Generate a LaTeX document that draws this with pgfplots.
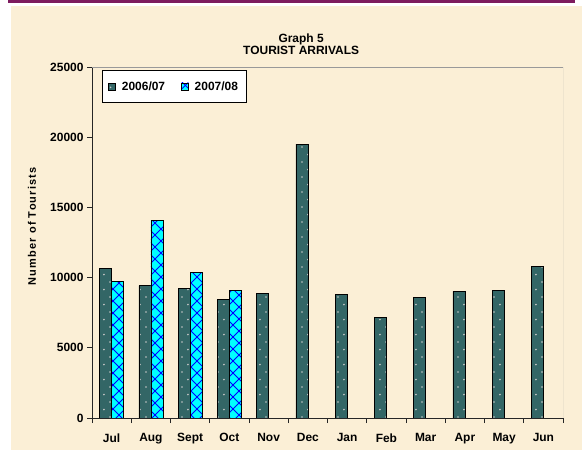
\documentclass[border=0pt]{standalone}
\usepackage{fontspec}
\setmainfont{Liberation Sans}
\newfontfamily\spacedfont[LetterSpace=11]{Liberation Sans}
\usepackage{pgfplots}
\pgfplotsset{compat=1.18}
\usetikzlibrary{patterns,patterns.meta}
\definecolor{bgBeige}{HTML}{FBEFD6}
\definecolor{bandPurple}{HTML}{7D1B5E}
\definecolor{barTeal}{HTML}{336666}
\definecolor{barCyan}{HTML}{00FFFF}
\definecolor{hatchBlue}{HTML}{0000FF}

\tikzdeclarepattern{
  name=sparsedots, type=uncolored,
  bottom left={(0pt,0pt)}, top right={(12pt,15pt)}, tile size={(12pt,15pt)},
  code={\fill (3pt,4pt) circle (0.9pt); \fill (9pt,11.5pt) circle (0.9pt);}
}
\tikzdeclarepattern{
  name=widehatch, type=uncolored,
  bottom left={(0pt,0pt)}, top right={(12pt,12pt)}, tile size={(12pt,12pt)},
  code={\draw[line width=0.9pt] (0pt,0pt) -- (12pt,12pt); \draw[line width=0.9pt] (0pt,12pt) -- (12pt,0pt);}
}

\begin{document}
\begin{tikzpicture}
  \useasboundingbox (0,0) rectangle (582bp,450bp);
  \fill[white] (0,0) rectangle (582bp,450bp);
  \fill[bgBeige] (11bp,0) rectangle (582bp,444bp);
  \fill[bandPurple] (8bp,447bp) rectangle (575bp,450bp);
  \begin{axis}[
    at={(92bp,32bp)}, anchor=south west,
    width=471bp, height=351bp, scale only axis,
    ybar, bar width=12bp,
    xmin=-0.5, xmax=11.5, ymin=0, ymax=25000,
    axis lines*=left, axis line style={-, draw=black!85, line width=0.8pt},
    ytick={0,5000,...,25000}, scaled y ticks=false,
    xtick={0,...,11},
    xticklabels={Jul,Aug,Sept,Oct,Nov,Dec,Jan,Feb,Mar,Apr,May,Jun},
    minor xtick={-0.5,0.5,...,11.5},
    major x tick style={draw=none},
    tick align=outside, major tick length=5bp, minor tick length=5bp,
    tick style={draw=black!85, line width=0.8pt},
    /pgf/number format/assume math mode=true,
    /pgf/number format/1000 sep={},
    ticklabel style={font=\fontsize{12}{14}\selectfont\bfseries},
    xticklabel style={yshift=-7bp},
    ylabel={\spacedfont Number of Tourists},
    ylabel style={at={(axis description cs:-0.1274,0.546)}, anchor=center,
      font=\fontsize{11}{13}\selectfont\bfseries},
    title={Graph 5\\TOURIST ARRIVALS},
    title style={at={(axis description cs:0.444,1)}, anchor=south, align=center,
      inner sep=0pt, yshift=6bp, font=\fontsize{12}{12}\selectfont\bfseries},
    legend columns=2,
    legend style={at={(0.0215,0.991)}, anchor=north west, draw=black, fill=white,
      font=\fontsize{12}{14}\selectfont\bfseries, inner xsep=6bp, inner ysep=9bp,
      /tikz/every odd column/.append style={column sep=4bp},
      /tikz/every even column/.append style={column sep=14bp}},
    legend image code/.code={\draw[#1, line width=0.6pt] (0bp,-3.5bp) rectangle (7bp,3.5bp);},
  ]
    \addplot[bar shift=-6bp, fill=barTeal, draw=black, line width=0.7pt,
      postaction={pattern=sparsedots, pattern color=gray!45}] coordinates {
      (0,10660) (1,9420) (2,9240) (3,8475) (4,8880) (5,19515)
      (6,8810) (7,7170) (8,8595) (9,9020) (10,9115) (11,10825)};
    \addplot[bar shift=6bp, fill=barCyan, draw=black, line width=0.7pt,
      postaction={pattern=widehatch, pattern color=hatchBlue}] coordinates {
      (0,9710) (1,14100) (2,10380) (3,9070)};
    \legend{2006/07,2007/08}
    \draw[gray!80, line width=0.8pt] (rel axis cs:0,1) -- (rel axis cs:1,1) -- (rel axis cs:1,0);
  \end{axis}
\end{tikzpicture}
\end{document}
